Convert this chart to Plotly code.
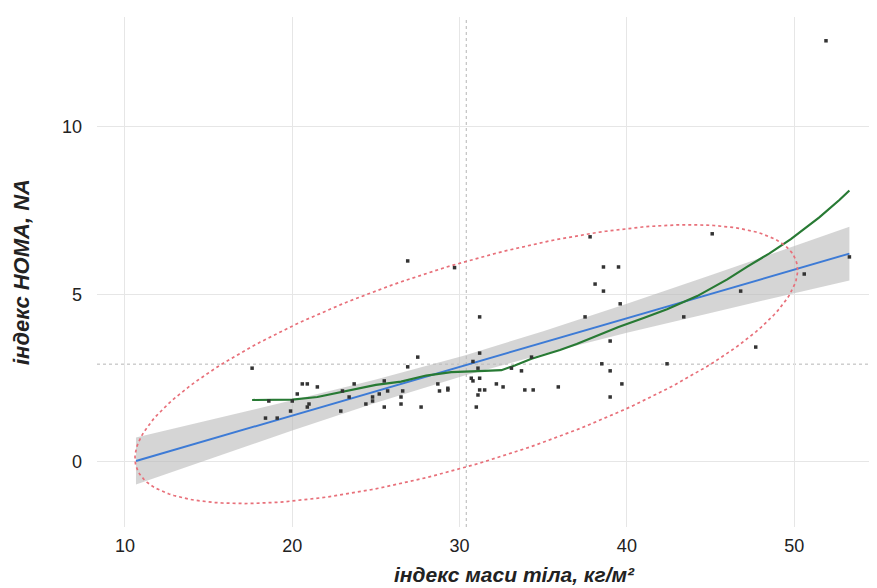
import numpy as np
import plotly.graph_objects as go

# ---- data ----
bmi = [17.6, 18.6, 20.0, 20.6, 20.9, 21.5, 20.3, 21.0, 20.9, 19.9, 18.4, 19.1,
       22.9, 23.0, 23.7, 23.4, 24.4, 24.8, 24.8, 25.5, 25.2, 25.7, 26.6, 26.5,
       26.5, 25.5, 27.7, 26.9, 27.5, 28.7, 28.8, 29.3, 29.3, 26.9, 29.7, 31.2,
       31.2, 30.8, 31.1, 30.7, 30.8, 31.2, 31.2, 31.5, 31.1, 31.0, 32.2, 32.6,
       33.1, 33.7, 34.3, 33.9, 34.4, 35.9, 37.5, 39.6, 39.0, 38.5, 39.0, 39.7,
       39.0, 37.8, 38.6, 39.5, 38.1, 38.6, 42.4, 45.1, 50.6, 53.3, 46.8, 43.4,
       47.7, 51.9]
homa = [2.80, 1.82, 1.82, 2.33, 2.33, 2.24, 2.03, 1.73, 1.64, 1.52, 1.31, 1.31,
        1.52, 2.12, 2.33, 1.94, 1.73, 1.94, 1.82, 2.42, 2.03, 2.12, 2.12, 1.94,
        1.73, 1.64, 1.64, 2.84, 3.13, 2.33, 2.12, 2.20, 2.15, 6.00, 5.80, 4.33,
        3.25, 3.00, 2.80, 2.50, 2.42, 2.50, 2.15, 2.15, 2.00, 1.64, 2.33, 2.24,
        2.80, 2.72, 3.13, 2.15, 2.15, 2.24, 4.33, 4.72, 3.61, 2.93, 2.72, 2.33,
        1.94, 6.72, 5.82, 5.82, 5.31, 5.10, 2.93, 6.81, 5.61, 6.12, 5.10, 4.33,
        3.43, 12.57]

# linear fit with confidence band
fit_x = [10.66, 15, 20, 25, 30.3, 35, 40, 45, 50, 53.3]
fit_y = [0.03, 0.66, 1.39, 2.11, 2.88, 3.56, 4.29, 5.01, 5.74, 6.22]
fit_lo = [-0.67, 0.08, 0.94, 1.77, 2.58, 3.22, 3.86, 4.45, 5.04, 5.42]
fit_hi = [0.73, 1.24, 1.84, 2.46, 3.18, 3.90, 4.72, 5.57, 6.44, 7.02]

# loess curve
loess_x = [17.6, 19, 20, 21.5, 23, 25, 26.5, 28, 29.5, 30.5, 31.5, 32.5, 33.3, 34.3,
           35.2, 36, 37, 38, 39.5, 41, 42.4, 44.2, 46, 47.2, 48.5, 49.8, 51.5, 52.7, 53.3]
loess_y = [1.85, 1.85, 1.86, 1.94, 2.09, 2.30, 2.40, 2.58, 2.68, 2.71, 2.72, 2.74,
           2.88, 3.08, 3.22, 3.34, 3.52, 3.72, 4.03, 4.30, 4.56, 4.95, 5.45, 5.83,
           6.22, 6.65, 7.30, 7.82, 8.10]

# means and data ellipse parameters
mean_bmi = 30.4
mean_homa = 2.92
ell_half_x = 19.8
ell_half_y = 4.16
ell_r = 0.675

x_ticks = [10, 20, 30, 40, 50]
y_ticks = [0, 5, 10]

# ---- figure ----
t = np.linspace(0, 2 * np.pi, 200)
ell_x = mean_bmi + ell_half_x * np.cos(t)
ell_y = mean_homa + ell_half_y * (ell_r * np.cos(t) + np.sqrt(1 - ell_r ** 2) * np.sin(t))

fig = go.Figure()
fig.add_trace(go.Scatter(x=fit_x + fit_x[::-1], y=fit_hi + fit_lo[::-1], fill="toself",
                         fillcolor="rgba(185,185,185,0.6)", line=dict(width=0),
                         mode="lines", hoverinfo="skip", showlegend=False))
fig.add_trace(go.Scatter(x=fit_x, y=fit_y, mode="lines",
                         line=dict(color="#3d7bd6", width=1.9), showlegend=False))
fig.add_trace(go.Scatter(x=loess_x, y=loess_y, mode="lines",
                         line=dict(color="#287a34", width=2.2), showlegend=False))
fig.add_trace(go.Scatter(x=ell_x, y=ell_y, mode="lines",
                         line=dict(color="#e8707a", width=1.7, dash="dot"), showlegend=False))
fig.add_trace(go.Scatter(x=bmi, y=homa, mode="markers",
                         marker=dict(symbol="square", size=3.5, color="#333333"),
                         showlegend=False))

fig.add_vline(x=mean_bmi, line=dict(color="#b5b5b5", width=1, dash="dot"), layer="below")
fig.add_hline(y=mean_homa, line=dict(color="#b5b5b5", width=1, dash="dot"), layer="below")

W, H = 869, 580
L, R, T, B = 89, 5, 9, 61
pw, ph = W - L - R, H - T - B

font_family = "Liberation Sans, Arial, sans-serif"
fig.update_layout(
    width=W, height=H,
    margin=dict(l=L, r=R, t=T, b=B),
    paper_bgcolor="white", plot_bgcolor="white",
    font=dict(family=font_family, size=18, color="#222222"),
    xaxis=dict(range=[8.33, 54.65], tickvals=x_ticks, showgrid=True, gridcolor="#e6e6e6",
               gridwidth=1, zeroline=False, showline=False, ticks="", ticklabelstandoff=6,
               tickfont=dict(size=18, color="#222222")),
    yaxis=dict(range=[-1.94, 13.28], tickvals=y_ticks, showgrid=True, gridcolor="#e6e6e6",
               gridwidth=1, zeroline=False, showline=False, ticks="", ticklabelstandoff=14,
               tickfont=dict(size=18, color="#222222")),
    annotations=[
        dict(text="<b><i>індекс маси тіла, кг/м²</i></b>", xref="paper", yref="paper",
             x=(506 - L) / pw, y=-(566 - (H - B)) / ph, xanchor="center",
             yanchor="middle", showarrow=False, font=dict(size=21, color="#222222")),
        dict(text="<b><i>індекс HOMA, NA</i></b>", xref="paper", yref="paper",
             x=-(L - 13) / pw, y=0.5, xanchor="center", yanchor="middle",
             textangle=-90, showarrow=False, font=dict(size=22, color="#222222")),
    ],
)

fig.write_html("out.html")
